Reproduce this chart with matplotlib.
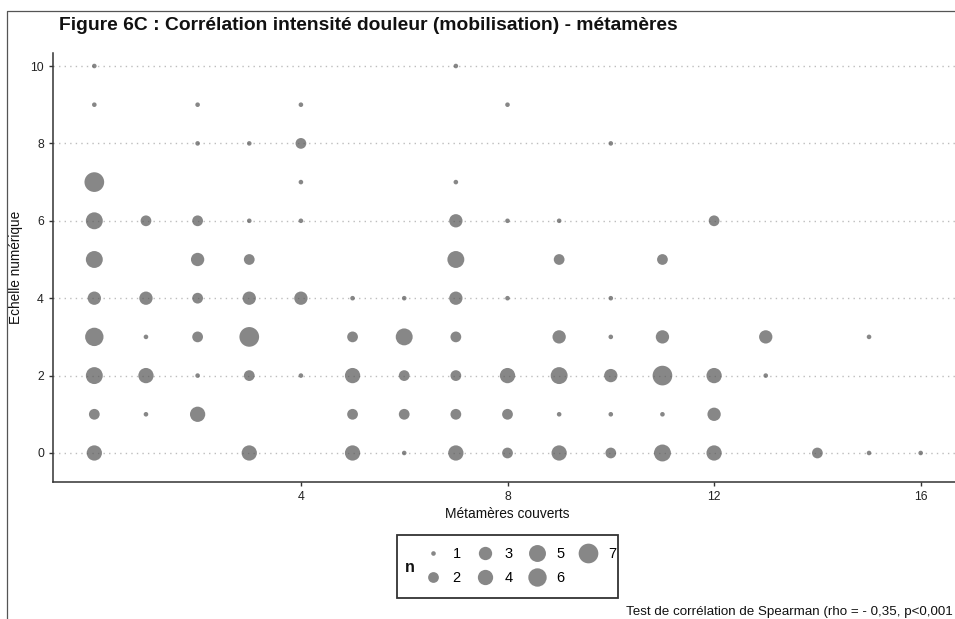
"""Figure 6C : intensité douleur (mobilisation) vs nombre de métamères couverts.

Nuage de points pondéré par l'effectif n de chaque couple (métamères, EN).
"""
import numpy as np
import matplotlib
matplotlib.use("Agg")
import matplotlib.pyplot as plt
from matplotlib.lines import Line2D
from matplotlib.patches import Rectangle

plt.rcParams["font.family"] = ["Liberation Sans", "DejaVu Sans"]

# une entrée par couple observé : métamères couverts, échelle numérique, effectif
metameres = [0, 7,
             0, 2, 4, 8,
             2, 3, 4, 10,
             0, 4, 7,
             0, 1, 2, 3, 4, 7, 8, 9, 12,
             0, 2, 3, 7, 9, 11,
             0, 1, 2, 3, 4, 5, 6, 7, 8, 10,
             0, 1, 2, 3, 5, 6, 7, 9, 10, 11, 13, 15,
             0, 1, 2, 3, 4, 5, 6, 7, 8, 9, 10, 11, 12, 13,
             0, 1, 2, 5, 6, 7, 8, 9, 10, 11, 12,
             0, 3, 5, 6, 7, 8, 9, 10, 11, 12, 14, 15, 16]
echelle = ([10] * 2 + [9] * 4 + [8] * 4 + [7] * 3 + [6] * 9 + [5] * 6
           + [4] * 10 + [3] * 12 + [2] * 14 + [1] * 11 + [0] * 13)
effectif = [1, 1,
            1, 1, 1, 1,
            1, 1, 2, 1,
            7, 1, 1,
            5, 2, 2, 1, 1, 3, 1, 1, 2,
            5, 3, 2, 5, 2, 2,
            3, 3, 2, 3, 3, 1, 1, 3, 1, 1,
            6, 1, 2, 7, 2, 5, 2, 3, 1, 3, 3, 1,
            5, 4, 1, 2, 1, 4, 2, 2, 4, 5, 3, 7, 4, 1,
            2, 1, 4, 2, 2, 2, 2, 1, 1, 1, 3,
            4, 4, 4, 1, 4, 2, 4, 2, 5, 4, 2, 1, 1]

x_ticks = [4, 8, 12, 16]
y_ticks = [0, 2, 4, 6, 8, 10]
legend_n = [1, 2, 3, 4, 5, 6, 7]

TITLE = "Figure 6C : Corrélation intensité douleur (mobilisation) - métamères"
CAPTION = "Test de corrélation de Spearman (rho = - 0,35, p<0,001"

PT_COLOR = "#555555"
PT_ALPHA = 0.7
AXIS = "#333333"
W, H = 955, 619


def diam_pt(n):
    # diamètre ~ sqrt de l'effectif remis à l'échelle (1..7)
    n = np.asarray(n, dtype=float)
    px = 4.6 + 15.1 * np.sqrt((n - 1) / 6)
    return px * 0.72


fig = plt.figure(figsize=(W / 100, H / 100), dpi=100)
ax = fig.add_axes([53 / W, 1 - 481.7 / H, 909 / W, 428.7 / H])

ax.scatter(metameres, echelle, s=diam_pt(effectif) ** 2, color=PT_COLOR,
           alpha=PT_ALPHA, linewidths=0, zorder=3)

ax.set_xlim(-0.8, 16.8)
ax.set_ylim(-0.742, 10.336)
ax.set_xticks(x_ticks)
ax.set_yticks(y_ticks)
ax.yaxis.grid(True, color="#bdbdbd", lw=1.0, ls=(0, (1, 3)), zorder=0)
ax.xaxis.grid(False)
for side in ("top", "right"):
    ax.spines[side].set_visible(False)
for side in ("left", "bottom"):
    ax.spines[side].set_color(AXIS)
    ax.spines[side].set_linewidth(1.1)
ax.tick_params(colors=AXIS, labelsize=8.8, length=3, width=1.0, labelcolor="#222222")

ax.set_xlabel("Métamères couverts", fontsize=9.9, color="#111111", labelpad=3)
ax.set_ylabel("Echelle numérique", fontsize=9.8, color="#111111", labelpad=5)

fig.text(59 / W, 1 - 26 / H, TITLE, fontsize=13.9, fontweight="bold",
         ha="left", va="center", color="#111111")

# légende de taille : clés 1..7 sur deux lignes, titre "n" à gauche
handles = [Line2D([], [], ls="none", marker="o", markersize=d, markeredgewidth=0,
                  color=PT_COLOR, alpha=PT_ALPHA) for d in diam_pt(legend_n)]
ax.legend(handles, [str(n) for n in legend_n], ncol=4, frameon=False,
          loc="center", bbox_to_anchor=(519 / W, 1 - 566 / H),
          bbox_transform=fig.transFigure, fontsize=10.5, borderpad=0,
          handlelength=1.5, handletextpad=0.6, columnspacing=0.9,
          labelspacing=0.7)
fig.add_artist(Rectangle((397 / W, 1 - 598 / H), 221 / W, 63 / H,
                         transform=fig.transFigure, fill=False,
                         edgecolor=AXIS, lw=1.3))
fig.text(410 / W, 1 - 567 / H, "n", fontsize=11.5, fontweight="bold",
         ha="center", va="center", color="#111111")

fig.text(953 / W, 1 - 612 / H, CAPTION, fontsize=9.6, ha="right", va="center",
         color="#111111")

# cadre du panneau
fig.add_artist(Line2D([7 / W, 7 / W, 1.0], [0, 1 - 11 / H, 1 - 11 / H],
                      transform=fig.transFigure, color="#555555", lw=0.9))

fig.savefig("out.png", dpi=100, facecolor="white")
